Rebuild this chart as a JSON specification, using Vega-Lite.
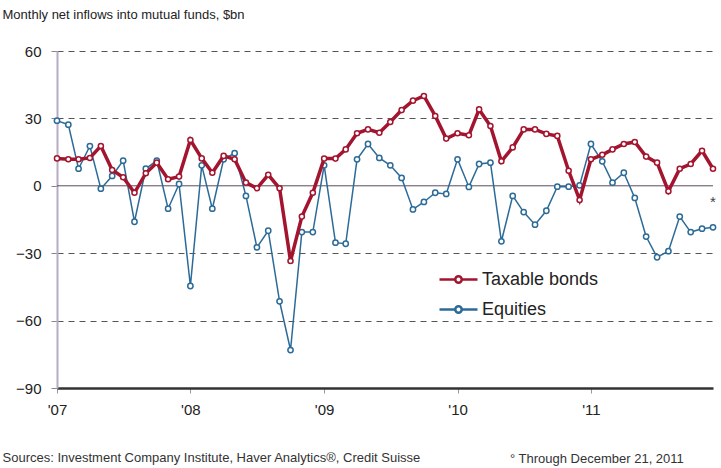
{
  "$schema": "https://vega.github.io/schema/vega-lite/v6.json",
  "autosize": "none",
  "width": 656,
  "height": 337,
  "padding": {"left": 57, "top": 51, "right": 8, "bottom": 80},
  "background": "white",
  "title": {
    "text": "° Through December 21, 2011",
    "orient": "bottom",
    "anchor": "start",
    "frame": "group",
    "dx": 453,
    "dy": -11,
    "offset": 0,
    "fontSize": 13,
    "fontWeight": "normal",
    "font": "Liberation Sans",
    "color": "#333333"
  },
  "datasets": {
    "flows": [
      {"date": "2007/01/01", "series": "Taxable bonds", "value": 12.2},
      {"date": "2007/02/01", "series": "Taxable bonds", "value": 11.8},
      {"date": "2007/03/01", "series": "Taxable bonds", "value": 11.8},
      {"date": "2007/04/01", "series": "Taxable bonds", "value": 12.4},
      {"date": "2007/05/01", "series": "Taxable bonds", "value": 17.7},
      {"date": "2007/06/01", "series": "Taxable bonds", "value": 7.0},
      {"date": "2007/07/01", "series": "Taxable bonds", "value": 3.8},
      {"date": "2007/08/01", "series": "Taxable bonds", "value": -3.1},
      {"date": "2007/09/01", "series": "Taxable bonds", "value": 5.6},
      {"date": "2007/10/01", "series": "Taxable bonds", "value": 10.3},
      {"date": "2007/11/01", "series": "Taxable bonds", "value": 2.9},
      {"date": "2007/12/01", "series": "Taxable bonds", "value": 4.1},
      {"date": "2008/01/01", "series": "Taxable bonds", "value": 20.4},
      {"date": "2008/02/01", "series": "Taxable bonds", "value": 12.2},
      {"date": "2008/03/01", "series": "Taxable bonds", "value": 5.8},
      {"date": "2008/04/01", "series": "Taxable bonds", "value": 13.3},
      {"date": "2008/05/01", "series": "Taxable bonds", "value": 11.8},
      {"date": "2008/06/01", "series": "Taxable bonds", "value": 1.4},
      {"date": "2008/07/01", "series": "Taxable bonds", "value": -1.1},
      {"date": "2008/08/01", "series": "Taxable bonds", "value": 4.9},
      {"date": "2008/09/01", "series": "Taxable bonds", "value": -1.1},
      {"date": "2008/10/01", "series": "Taxable bonds", "value": -33.5},
      {"date": "2008/11/01", "series": "Taxable bonds", "value": -13.7},
      {"date": "2008/12/01", "series": "Taxable bonds", "value": -3.1},
      {"date": "2009/01/01", "series": "Taxable bonds", "value": 12.1},
      {"date": "2009/02/01", "series": "Taxable bonds", "value": 12.1},
      {"date": "2009/03/01", "series": "Taxable bonds", "value": 16.2},
      {"date": "2009/04/01", "series": "Taxable bonds", "value": 23.4},
      {"date": "2009/05/01", "series": "Taxable bonds", "value": 25.1},
      {"date": "2009/06/01", "series": "Taxable bonds", "value": 23.6},
      {"date": "2009/07/01", "series": "Taxable bonds", "value": 28.4},
      {"date": "2009/08/01", "series": "Taxable bonds", "value": 33.7},
      {"date": "2009/09/01", "series": "Taxable bonds", "value": 37.9},
      {"date": "2009/10/01", "series": "Taxable bonds", "value": 40.0},
      {"date": "2009/11/01", "series": "Taxable bonds", "value": 31.1},
      {"date": "2009/12/01", "series": "Taxable bonds", "value": 21.0},
      {"date": "2010/01/01", "series": "Taxable bonds", "value": 23.4},
      {"date": "2010/02/01", "series": "Taxable bonds", "value": 22.5},
      {"date": "2010/03/01", "series": "Taxable bonds", "value": 34.0},
      {"date": "2010/04/01", "series": "Taxable bonds", "value": 26.6},
      {"date": "2010/05/01", "series": "Taxable bonds", "value": 10.9},
      {"date": "2010/06/01", "series": "Taxable bonds", "value": 17.1},
      {"date": "2010/07/01", "series": "Taxable bonds", "value": 25.1},
      {"date": "2010/08/01", "series": "Taxable bonds", "value": 25.1},
      {"date": "2010/09/01", "series": "Taxable bonds", "value": 23.1},
      {"date": "2010/10/01", "series": "Taxable bonds", "value": 22.2},
      {"date": "2010/11/01", "series": "Taxable bonds", "value": 6.7},
      {"date": "2010/12/01", "series": "Taxable bonds", "value": -6.3},
      {"date": "2011/01/01", "series": "Taxable bonds", "value": 11.8},
      {"date": "2011/02/01", "series": "Taxable bonds", "value": 13.8},
      {"date": "2011/03/01", "series": "Taxable bonds", "value": 16.2},
      {"date": "2011/04/01", "series": "Taxable bonds", "value": 18.6},
      {"date": "2011/05/01", "series": "Taxable bonds", "value": 19.5},
      {"date": "2011/06/01", "series": "Taxable bonds", "value": 13.0},
      {"date": "2011/07/01", "series": "Taxable bonds", "value": 10.3},
      {"date": "2011/08/01", "series": "Taxable bonds", "value": -2.4},
      {"date": "2011/09/01", "series": "Taxable bonds", "value": 7.6},
      {"date": "2011/10/01", "series": "Taxable bonds", "value": 9.7},
      {"date": "2011/11/01", "series": "Taxable bonds", "value": 15.6},
      {"date": "2011/12/01", "series": "Taxable bonds", "value": 7.6},
      {"date": "2007/01/01", "series": "Equities", "value": 29.0},
      {"date": "2007/02/01", "series": "Equities", "value": 27.2},
      {"date": "2007/03/01", "series": "Equities", "value": 7.6},
      {"date": "2007/04/01", "series": "Equities", "value": 17.7},
      {"date": "2007/05/01", "series": "Equities", "value": -1.3},
      {"date": "2007/06/01", "series": "Equities", "value": 4.4},
      {"date": "2007/07/01", "series": "Equities", "value": 11.2},
      {"date": "2007/08/01", "series": "Equities", "value": -16.0},
      {"date": "2007/09/01", "series": "Equities", "value": 7.6},
      {"date": "2007/10/01", "series": "Equities", "value": 11.2},
      {"date": "2007/11/01", "series": "Equities", "value": -10.2},
      {"date": "2007/12/01", "series": "Equities", "value": 0.8},
      {"date": "2008/01/01", "series": "Equities", "value": -44.6},
      {"date": "2008/02/01", "series": "Equities", "value": 9.1},
      {"date": "2008/03/01", "series": "Equities", "value": -10.2},
      {"date": "2008/04/01", "series": "Equities", "value": 11.8},
      {"date": "2008/05/01", "series": "Equities", "value": 14.5},
      {"date": "2008/06/01", "series": "Equities", "value": -4.5},
      {"date": "2008/07/01", "series": "Equities", "value": -27.4},
      {"date": "2008/08/01", "series": "Equities", "value": -20.0},
      {"date": "2008/09/01", "series": "Equities", "value": -51.4},
      {"date": "2008/10/01", "series": "Equities", "value": -73.1},
      {"date": "2008/11/01", "series": "Equities", "value": -20.6},
      {"date": "2008/12/01", "series": "Equities", "value": -20.6},
      {"date": "2009/01/01", "series": "Equities", "value": 9.1},
      {"date": "2009/02/01", "series": "Equities", "value": -25.3},
      {"date": "2009/03/01", "series": "Equities", "value": -25.8},
      {"date": "2009/04/01", "series": "Equities", "value": 11.8},
      {"date": "2009/05/01", "series": "Equities", "value": 18.6},
      {"date": "2009/06/01", "series": "Equities", "value": 12.4},
      {"date": "2009/07/01", "series": "Equities", "value": 9.1},
      {"date": "2009/08/01", "series": "Equities", "value": 3.5},
      {"date": "2009/09/01", "series": "Equities", "value": -10.5},
      {"date": "2009/10/01", "series": "Equities", "value": -7.2},
      {"date": "2009/11/01", "series": "Equities", "value": -3.1},
      {"date": "2009/12/01", "series": "Equities", "value": -3.6},
      {"date": "2010/01/01", "series": "Equities", "value": 11.8},
      {"date": "2010/02/01", "series": "Equities", "value": -0.5},
      {"date": "2010/03/01", "series": "Equities", "value": 9.7},
      {"date": "2010/04/01", "series": "Equities", "value": 10.3},
      {"date": "2010/05/01", "series": "Equities", "value": -24.7},
      {"date": "2010/06/01", "series": "Equities", "value": -4.5},
      {"date": "2010/07/01", "series": "Equities", "value": -11.7},
      {"date": "2010/08/01", "series": "Equities", "value": -17.3},
      {"date": "2010/09/01", "series": "Equities", "value": -11.1},
      {"date": "2010/10/01", "series": "Equities", "value": -0.4},
      {"date": "2010/11/01", "series": "Equities", "value": -0.4},
      {"date": "2010/12/01", "series": "Equities", "value": 0.2},
      {"date": "2011/01/01", "series": "Equities", "value": 18.6},
      {"date": "2011/02/01", "series": "Equities", "value": 10.9},
      {"date": "2011/03/01", "series": "Equities", "value": 1.4},
      {"date": "2011/04/01", "series": "Equities", "value": 5.8},
      {"date": "2011/05/01", "series": "Equities", "value": -5.4},
      {"date": "2011/06/01", "series": "Equities", "value": -22.6},
      {"date": "2011/07/01", "series": "Equities", "value": -31.8},
      {"date": "2011/08/01", "series": "Equities", "value": -29.1},
      {"date": "2011/09/01", "series": "Equities", "value": -13.7},
      {"date": "2011/10/01", "series": "Equities", "value": -20.6},
      {"date": "2011/11/01", "series": "Equities", "value": -19.1},
      {"date": "2011/12/01", "series": "Equities", "value": -18.5}
    ]
  },
  "layer": [
    {
      "data": {"values": [{"zero": 0}]},
      "mark": {"type": "rule", "color": "#5a4a5e", "strokeWidth": 1},
      "encoding": {"y": {"field": "zero", "type": "quantitative"}}
    },
    {
      "data": {"name": "flows"},
      "transform": [{"filter": "datum.series === 'Equities'"}],
      "mark": {
        "type": "line",
        "strokeWidth": 1.5,
        "point": {"filled": false, "fill": "white", "size": 28, "strokeWidth": 1.5}
      },
      "encoding": {
        "x": {"field": "date", "type": "temporal"},
        "y": {"field": "value", "type": "quantitative"},
        "color": {"field": "series", "type": "nominal"}
      }
    },
    {
      "data": {"name": "flows"},
      "transform": [{"filter": "datum.series === 'Taxable bonds'"}],
      "mark": {
        "type": "line",
        "strokeWidth": 3.5,
        "point": {"filled": false, "fill": "white", "size": 26, "strokeWidth": 1.5}
      },
      "encoding": {
        "x": {
          "field": "date",
          "type": "temporal",
          "scale": {"domain": [{"year": 2007, "month": 1, "date": 1}, {"year": 2011, "month": 12, "date": 1}]},
          "axis": {
            "format": "'%y",
            "tickCount": {"interval": "year", "step": 1},
            "grid": false,
            "domainColor": "#333333",
            "domainWidth": 2.5,
            "tickColor": "#999999",
            "tickSize": 5,
            "labelFontSize": 15,
            "labelColor": "#222222",
            "labelPadding": 9,
            "labelBaseline": "top",
            "labelAlign": "center",
            "labelFlush": false,
            "title": "Sources: Investment Company Institute, Haver Analytics®, Credit Suisse",
            "titleX": -55,
            "titleY": 69,
            "titleAlign": "left",
            "titleAnchor": null,
            "titleBaseline": "middle",
            "titleFontSize": 13,
            "titleFontWeight": "normal",
            "titleColor": "#333333"
          }
        },
        "y": {
          "field": "value",
          "type": "quantitative",
          "scale": {"domain": [-90, 60], "nice": false},
          "axis": {
            "values": [-90, -60, -30, 0, 30, 60],
            "grid": true,
            "gridDash": [6, 5],
            "gridColor": "#555555",
            "gridWidth": 1,
            "gridOpacity": {"condition": {"test": "datum.value === 0 || datum.value === -90", "value": 0}, "value": 1},
            "domainColor": "#b8aac4",
            "domainWidth": 2,
            "ticks": true,
            "tickColor": "#888888",
            "tickSize": 6,
            "labelFontSize": 15,
            "labelColor": "#222222",
            "labelPadding": 10,
            "title": "Monthly net inflows into mutual funds, $bn",
            "titleAngle": 0,
            "titleX": -55,
            "titleY": -37,
            "titleAlign": "left",
            "titleBaseline": "middle",
            "titleFontSize": 13,
            "titleFontWeight": "normal",
            "titleColor": "#222222"
          }
        },
        "color": {
          "field": "series",
          "type": "nominal",
          "scale": {"domain": ["Taxable bonds", "Equities"], "range": ["#a3152f", "#2c6b98"]},
          "legend": {
            "orient": "none",
            "legendX": 381,
            "legendY": 208,
            "title": null,
            "padding": 0,
            "symbolType": "M-1,0H-0.17M0.17,0H1M-0.17,0A0.17,0.17 0 1,0 0.17,0A0.17,0.17 0 1,0 -0.17,0",
            "symbolSize": 1444,
            "symbolStrokeWidth": 2.5,
            "rowPadding": -15,
            "labelFontSize": 18,
            "labelColor": "#222222",
            "labelOffset": 3
          }
        }
      }
    },
    {
      "data": {"values": [{"date": "2011/12/01", "value": -6, "mark": "*"}]},
      "mark": {"type": "text", "fontSize": 15, "color": "#444444", "font": "Liberation Sans", "dy": 3},
      "encoding": {
        "x": {"field": "date", "type": "temporal"},
        "y": {"field": "value", "type": "quantitative"},
        "text": {"field": "mark"}
      }
    }
  ],
  "config": {
    "view": {"stroke": null},
    "font": "Liberation Sans"
  }
}
